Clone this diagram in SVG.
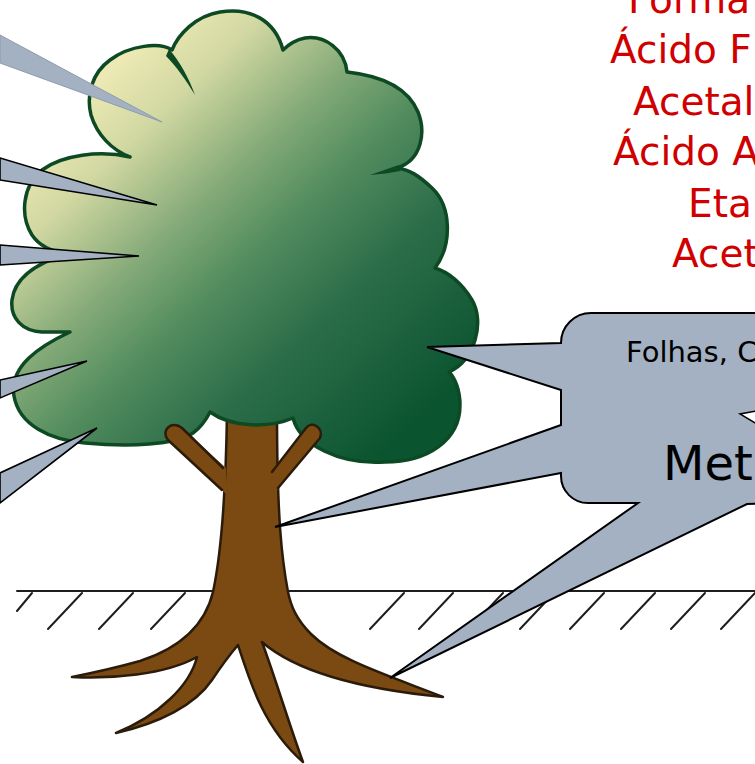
<svg xmlns="http://www.w3.org/2000/svg" width="755" height="764" viewBox="0 0 755 764">
  <defs>
    <linearGradient id="leafGrad" gradientUnits="userSpaceOnUse" x1="110" y1="70" x2="430" y2="410">
      <stop offset="0" stop-color="#ece9b4"/>
      <stop offset="0.14" stop-color="#d2d8a2"/>
      <stop offset="0.34" stop-color="#84aa78"/>
      <stop offset="0.5" stop-color="#528c5e"/>
      <stop offset="0.7" stop-color="#2c6d49"/>
      <stop offset="1" stop-color="#0b5430"/>
    </linearGradient>
    <style>
      .ground { stroke: #1e1e1e; stroke-width: 2; fill: none; stroke-linecap: round; }
      .wood { fill: #7b4a12; stroke: #2a1b0a; stroke-width: 2.5; stroke-linejoin: round; }
      .woodfill { fill: #7b4a12; stroke: none; }
      .woodline { fill: none; stroke: #2a1b0a; stroke-width: 2.5; stroke-linejoin: round; stroke-linecap: round; }
      .canopy { fill: url(#leafGrad); stroke: #0d4a24; stroke-width: 3.5; stroke-linejoin: round; }
      .spike { fill: #0d4a24; }
      .callout { fill: #a3b1c2; stroke: #000; stroke-width: 2; stroke-linejoin: miter; }
      .wedge { fill: #a3b1c2; stroke: #000; stroke-width: 1.6; stroke-linejoin: miter; }
      .wedge-soft { fill: #a3b1c2; stroke: #8e9cad; stroke-width: 1; }
      .red { font-family: "Comic Sans MS", "DejaVu Sans", sans-serif; font-size: 39px; fill: #d10000; }
      .label { font-family: "Comic Sans MS", "DejaVu Sans", sans-serif; fill: #000; }
    </style>
  </defs>

  <rect width="755" height="764" fill="#ffffff"/>

  <!-- ground line with hatching -->
  <g id="ground">
    <line class="ground" x1="17" y1="591" x2="755" y2="591"/>
    <path class="ground" d="M32,593 L17,611 M82,593 L48,629 M133,593 L99,629 M185,593 L151,629
      M404,593 L370,629 M453,593 L419,629 M503,593 L469,629 M554,593 L520,629
      M604,593 L570,629 M655,593 L621,629 M705,593 L671,629 M755,593 L721,629"/>
  </g>

  <!-- trunk and roots -->
  <g id="trunk">
    <path class="wood" d="M227,412
      C226,480 222,550 213,592
      C205,625 180,648 140,661
      C115,668 92,673 72,677
      C110,679 165,675 197,657
      C190,685 160,715 116,733
      C160,723 195,705 212,680
      C222,665 232,652 238,645
      C250,682 264,728 303,762
      C291,730 276,680 262,642
      C292,668 350,688 443,697
      C384,674 336,659 311,634
      C296,619 291,606 288,592
      C282,560 277,520 277,412 Z"/>
  </g>

  <!-- leafy crown -->
  <g id="crown">
    <path class="canopy" d="M210,412
      C232,428 270,428 293,418
      C300,445 340,465 385,462
      C428,462 460,440 460,405
      C460,390 455,378 449,372
      C475,360 485,322 472,300
      C462,283 448,272 435,268
      C452,245 452,207 432,188
      C418,175 410,170 397,168
      C422,160 426,132 418,112
      C408,88 384,76 347,72
      C345,50 325,35 305,38
      C295,40 288,45 283,50
      C275,20 250,7 220,12
      C195,16 178,35 172,50
      C160,42 130,45 110,60
      C92,73 86,95 91,115
      C97,135 112,150 130,157
      C100,150 62,155 42,170
      C22,186 20,216 32,235
      C40,247 54,252 67,254
      C40,262 15,275 12,300
      C10,318 22,331 42,332
      L70,332
      C40,346 9,366 14,396
      C19,425 50,440 85,443
      C130,447 175,445 193,433
      C200,428 206,420 210,412 Z"/>
    <path class="spike" d="M169,49 C180,62 189,78 195,95 C186,80 176,66 166,56 Z"/>
    <path class="spike" d="M399,165 C390,168 381,171 370,175 C381,174 391,173 400,171 Z"/>
  </g>

  <!-- side branches in front of the crown -->
  <g id="branches">
    <path class="woodfill" d="M226,468 L182,428 C172,420 160,430 168,440 L226,494 Z"/>
    <path class="woodline" d="M223,468 L182,428 C172,420 160,430 168,440 L222,490"/>
    <path class="woodfill" d="M270,474 L306,428 C312,420 324,428 320,438 L274,494 Z"/>
    <path class="woodline" d="M272,472 L306,428 C312,420 324,428 320,438 L278,488"/>
  </g>

  <!-- pointers coming in from the left -->
  <g id="connectors">
    <polygon class="wedge-soft" points="0,35 162,122 0,63"/>
    <polygon class="wedge" points="0,158 157,205 0,180"/>
    <polygon class="wedge" points="0,245 139,256 0,265"/>
    <polygon class="wedge" points="0,380 87,361 0,398"/>
    <polygon class="wedge" points="0,473 97,428 0,503"/>
  </g>

  <!-- callout with pointers to crown, trunk and roots -->
  <g id="callout">
    <path class="callout" d="M561,343 A30,30 0 0 1 591,313 L800,313 L800,503 L747,504 L390,678 L638,503 L588,503
      A27,27 0 0 1 561,476 L561,473 L275,527 L561,425 L561,390 L427,347 Z"/>
    <polygon points="757,411 740,414 757,424" fill="#ffffff" stroke="#000" stroke-width="1.5"/>
    <text class="label" x="626" y="362" font-size="29">Folhas, C</text>
    <text class="label" x="663" y="480" font-size="48">Meta</text>
  </g>

  <!-- compound list -->
  <g id="compounds">
    <text class="red" x="628" y="13">Forma</text>
    <text class="red" x="610" y="63">Ácido F</text>
    <text class="red" x="633" y="115">Acetal</text>
    <text class="red" x="613" y="165">Ácido A</text>
    <text class="red" x="688" y="217">Eta</text>
    <text class="red" x="672" y="267">Acet</text>
  </g>
</svg>
